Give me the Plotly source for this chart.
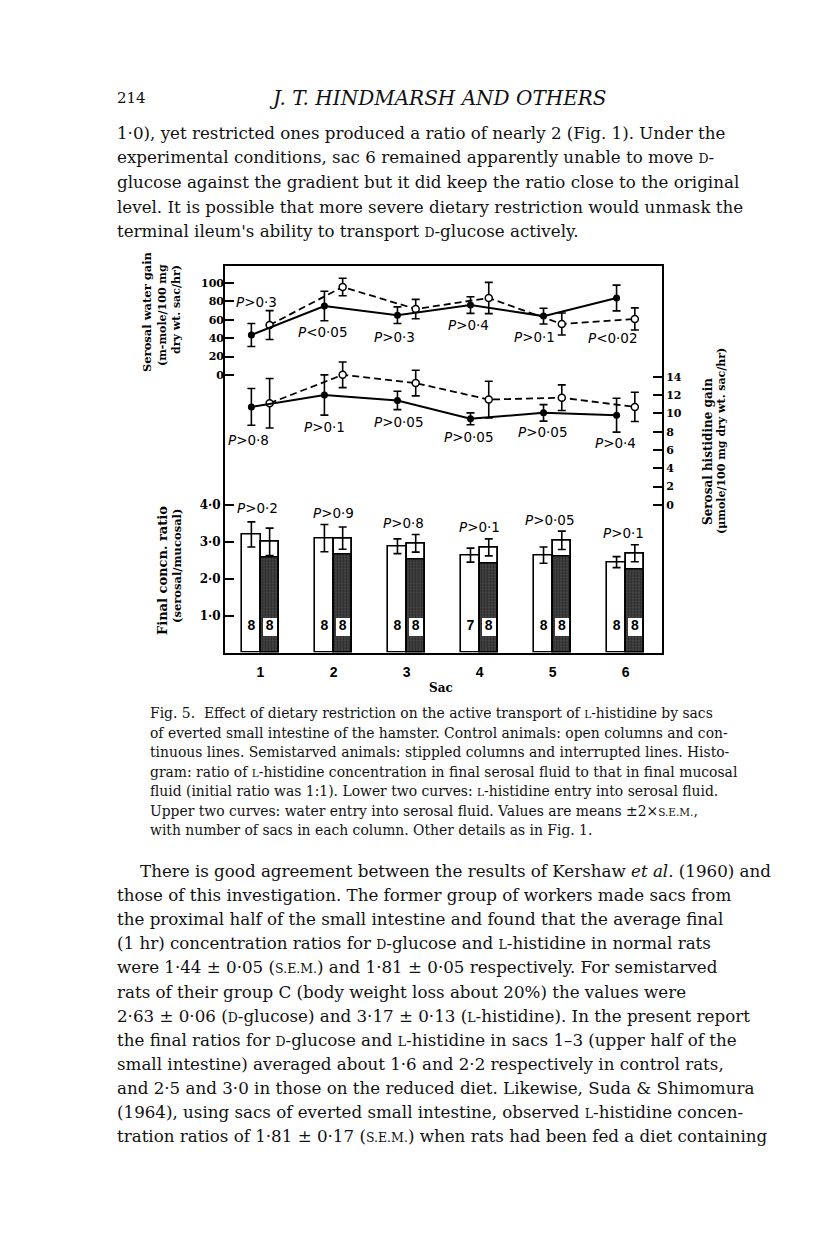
import plotly.graph_objects as go

# ---------------- data ----------------
sacs = [1, 2, 3, 4, 5, 6]
sac_labels = ["1", "2", "3", "4", "5", "6"]

ratio_ctrl = [3.20, 3.10, 2.88, 2.64, 2.64, 2.45]
ratio_ctrl_err = [0.34, 0.37, 0.20, 0.19, 0.22, 0.15]
ratio_semi = [3.00, 3.10, 2.96, 2.85, 3.04, 2.69]
ratio_semi_err = [0.37, 0.30, 0.24, 0.23, 0.25, 0.23]
n_ctrl = [8, 8, 8, 7, 8, 8]
n_semi = [8, 8, 8, 8, 8, 8]

water_ctrl = [43.5, 75.0, 65.0, 76.0, 64.0, 83.7]
water_ctrl_err = [12.5, 16.0, 9.0, 9.0, 8.5, 14.0]
water_semi = [54.3, 95.7, 71.7, 83.7, 55.4, 60.9]
water_semi_err = [15.7, 9.5, 10.5, 17.0, 12.0, 12.0]

hist_ctrl = [10.7, 12.0, 11.4, 9.4, 10.05, 9.8]
hist_ctrl_err = [2.0, 2.2, 1.0, 0.65, 0.9, 1.85]
hist_semi = [11.1, 14.2, 13.3, 11.5, 11.7, 10.7]
hist_semi_err = [2.7, 1.4, 1.4, 2.0, 1.4, 1.6]

p_water = ["P>0·3", "P<0·05", "P>0·3", "P>0·4", "P>0·1", "P<0·02"]
p_hist = ["P>0·8", "P>0·1", "P>0·05", "P>0·05", "P>0·05", "P>0·4"]
p_ratio = ["P>0·2", "P>0·9", "P>0·8", "P>0·1", "P>0·05", "P>0·1"]

water_ticks = [0, 20, 40, 60, 80, 100]
hist_ticks = [0, 2, 4, 6, 8, 10, 12, 14]
ratio_ticks = [1, 2, 3, 4]
ratio_ticktext = ["1·0", "2·0", "3·0", "4·0"]

# ---------------- styling constants ----------------
W, H = 816, 1249
OFF = 0.125
BW = 0.25
STIPPLE_GAP = 0.43
BOX_BASE, BOX_H = 0.46, 0.48
COUNT_Y = 0.70
SERIF = "DejaVu Serif"
SANS = "DejaVu Sans"


def px(x):
    return x / W


def py(y):
    return 1 - y / H


xc = [s - OFF for s in sacs]
xs = [s + OFF for s in sacs]

fig = go.Figure()

# control bars (open)
fig.add_trace(go.Bar(x=xc, y=ratio_ctrl, width=BW, yaxis="y",
                     marker=dict(color="white", line=dict(color="black", width=1.6)),
                     error_y=dict(type="data", array=ratio_ctrl_err, color="black",
                                  thickness=1.6, width=4),
                     showlegend=False, hoverinfo="skip"))
# semistarved bars: white base
fig.add_trace(go.Bar(x=xs, y=ratio_semi, width=BW, yaxis="y",
                     marker=dict(color="white", line=dict(color="black", width=1.6)),
                     showlegend=False, hoverinfo="skip"))
# stippled part
fig.add_trace(go.Bar(x=xs, y=[v - STIPPLE_GAP for v in ratio_semi], width=BW, yaxis="y",
                     marker=dict(color="#333333", line=dict(color="black", width=1.6),
                                 pattern=dict(shape=".", fgcolor="#0a0a0a", bgcolor="#4a4a4a",
                                              size=3, solidity=0.5)),
                     showlegend=False, hoverinfo="skip"))
# white count boxes
fig.add_trace(go.Bar(x=xs, y=[BOX_H] * len(sacs), base=[BOX_BASE] * len(sacs), width=BW * 0.78,
                     yaxis="y", marker=dict(color="white", line=dict(width=0)),
                     showlegend=False, hoverinfo="skip"))
# outline + error bars on top
fig.add_trace(go.Bar(x=xs, y=ratio_semi, width=BW, yaxis="y",
                     marker=dict(color="rgba(0,0,0,0)", line=dict(color="black", width=1.6)),
                     error_y=dict(type="data", array=ratio_semi_err, color="black",
                                  thickness=1.6, width=4),
                     showlegend=False, hoverinfo="skip"))
# counts
fig.add_trace(go.Scatter(x=xc + xs, y=[COUNT_Y] * 12, mode="text",
                         text=[str(n) for n in n_ctrl + n_semi], yaxis="y",
                         textfont=dict(family="Liberation Sans", size=14, color="black", weight="bold"),
                         showlegend=False, hoverinfo="skip"))

# water curves
fig.add_trace(go.Scatter(x=xs, y=water_semi, yaxis="y2", mode="lines+markers",
                         line=dict(color="black", width=1.8, dash="7px,4px"),
                         marker=dict(symbol="circle", size=7, color="white",
                                     line=dict(color="black", width=1.5)),
                         error_y=dict(type="data", array=water_semi_err, color="black",
                                      thickness=1.6, width=4),
                         showlegend=False, hoverinfo="skip"))
fig.add_trace(go.Scatter(x=xc, y=water_ctrl, yaxis="y2", mode="lines+markers",
                         line=dict(color="black", width=2),
                         marker=dict(symbol="circle", size=7, color="black"),
                         error_y=dict(type="data", array=water_ctrl_err, color="black",
                                      thickness=1.6, width=4),
                         showlegend=False, hoverinfo="skip"))
# histidine curves
fig.add_trace(go.Scatter(x=xs, y=hist_semi, yaxis="y3", mode="lines+markers",
                         line=dict(color="black", width=1.8, dash="7px,4px"),
                         marker=dict(symbol="circle", size=7, color="white",
                                     line=dict(color="black", width=1.5)),
                         error_y=dict(type="data", array=hist_semi_err, color="black",
                                      thickness=1.6, width=4),
                         showlegend=False, hoverinfo="skip"))
fig.add_trace(go.Scatter(x=xc, y=hist_ctrl, yaxis="y3", mode="lines+markers",
                         line=dict(color="black", width=2),
                         marker=dict(symbol="circle", size=7, color="black"),
                         error_y=dict(type="data", array=hist_ctrl_err, color="black",
                                      thickness=1.6, width=4),
                         showlegend=False, hoverinfo="skip"))

annotations = []


def ptxt(s):
    s = s.replace("<", "&lt;").replace(">", "&gt;")
    return "<i>P</i>" + s[1:]


pfont = dict(family=SANS, size=13.5, color="black")

# P labels (label anchor positions in axis units)
water_pos = [(0.95, 79), (1.85, 46.7), (2.84, 41.3), (3.85, 54.3), (4.75, 41.3), (5.82, 40.2)]
for t, (x, y) in zip(p_water, water_pos):
    annotations.append(dict(x=x, y=y, xref="x", yref="y2", text=ptxt(t), showarrow=False, font=pfont))
hist_pos = [(0.84, 7.1), (1.87, 8.5), (2.9, 9.07), (3.86, 7.43), (4.87, 7.98), (5.86, 6.78)]
for t, (x, y) in zip(p_hist, hist_pos):
    annotations.append(dict(x=x, y=y, xref="x", yref="y3", text=ptxt(t), showarrow=False, font=pfont))
ratio_pos = [(0.96, 3.91), (2.0, 3.78), (2.96, 3.5), (4.0, 3.4), (4.96, 3.59), (5.97, 3.23)]
for t, (x, y) in zip(p_ratio, ratio_pos):
    annotations.append(dict(x=x, y=y, xref="x", yref="y", text=ptxt(t), showarrow=False, font=pfont))

# axis titles (rotated)
for txt, x, y, sz in [("Serosal water gain", 147, 312, 11.5),
                      ("(m-mole/100 mg", 162, 315, 11),
                      ("dry wt. sac/hr)", 176, 310, 11),
                      ("Final concn. ratio", 162, 571, 13),
                      ("(serosal/mucosal)", 177, 566, 11.5),
                      ("Serosal histidine gain", 708, 452, 12),
                      ("(μmole/100 mg dry wt. sac/hr)", 721, 441, 11)]:
    annotations.append(dict(x=px(x), y=py(y), xref="paper", yref="paper", text=txt,
                            textangle=-90, showarrow=False,
                            font=dict(family=SERIF, size=sz, color="black", weight="bold"),
                            xanchor="center", yanchor="middle"))
annotations.append(dict(x=px(441), y=py(688), xref="paper", yref="paper", text="Sac",
                        showarrow=False, font=dict(family=SERIF, size=12, color="black", weight="bold"),
                        xanchor="center", yanchor="middle"))

# page text
body_font = dict(family=SERIF, size=16.7, color="#111111")
cap_font = dict(family=SERIF, size=13.9, color="#111111")
SC = '<span style="font-size:12.5px">{}</span>'
D = SC.format("D")
L = SC.format("L")
SEM = '<span style="font-size:12.5px">S.E.M.</span>'
SCc = '<span style="font-size:10.5px">{}</span>'
Lc = SCc.format("L")
SEMc = '<span style="font-size:10.5px">S.E.M.</span>'

annotations.append(dict(x=px(115), y=py(98), xref="paper", yref="paper", text="214",
                        showarrow=False, xanchor="left", yanchor="middle",
                        font=dict(family=SERIF, size=15, color="#111111")))
annotations.append(dict(x=px(438), y=py(98), xref="paper", yref="paper",
                        text="<i>J. T. HINDMARSH AND OTHERS</i>",
                        showarrow=False, xanchor="center", yanchor="middle",
                        font=dict(family=SERIF, size=20, color="#111111")))

p1 = ["1·0), yet restricted ones produced a ratio of nearly 2 (Fig. 1). Under the",
      "experimental conditions, sac 6 remained apparently unable to move " + D + "-",
      "glucose against the gradient but it did keep the ratio close to the original",
      "level. It is possible that more severe dietary restriction would unmask the",
      "terminal ileum's ability to transport " + D + "-glucose actively."]
for i, line in enumerate(p1):
    annotations.append(dict(x=px(115), y=py(133 + 24.5 * i), xref="paper", yref="paper", text=line,
                            showarrow=False, xanchor="left", yanchor="middle", font=body_font))

cap = ["Fig. 5.  Effect of dietary restriction on the active transport of " + Lc + "-histidine by sacs",
       "of everted small intestine of the hamster. Control animals: open columns and con-",
       "tinuous lines. Semistarved animals: stippled columns and interrupted lines. Histo-",
       "gram: ratio of " + Lc + "-histidine concentration in final serosal fluid to that in final mucosal",
       "fluid (initial ratio was 1:1). Lower two curves: " + Lc + "-histidine entry into serosal fluid.",
       "Upper two curves: water entry into serosal fluid. Values are means ±2×" + SEMc + ",",
       "with number of sacs in each column. Other details as in Fig. 1."]
for i, line in enumerate(cap):
    annotations.append(dict(x=px(148), y=py(713 + 19.5 * i), xref="paper", yref="paper", text=line,
                            showarrow=False, xanchor="left", yanchor="middle", font=cap_font))

p2 = ["There is good agreement between the results of Kershaw <i>et al</i>. (1960) and",
      "those of this investigation. The former group of workers made sacs from",
      "the proximal half of the small intestine and found that the average final",
      "(1 hr) concentration ratios for " + D + "-glucose and " + L + "-histidine in normal rats",
      "were 1·44 ± 0·05 (" + SEM + ") and 1·81 ± 0·05 respectively. For semistarved",
      "rats of their group C (body weight loss about 20%) the values were",
      "2·63 ± 0·06 (" + D + "-glucose) and 3·17 ± 0·13 (" + L + "-histidine). In the present report",
      "the final ratios for " + D + "-glucose and " + L + "-histidine in sacs 1–3 (upper half of the",
      "small intestine) averaged about 1·6 and 2·2 respectively in control rats,",
      "and 2·5 and 3·0 in those on the reduced diet. Likewise, Suda & Shimomura",
      "(1964), using sacs of everted small intestine, observed " + L + "-histidine concen-",
      "tration ratios of 1·81 ± 0·17 (" + SEM + ") when rats had been fed a diet containing"]
for i, line in enumerate(p2):
    x0 = 138 if i == 0 else 115
    annotations.append(dict(x=px(x0), y=py(871 + 24.1 * i), xref="paper", yref="paper", text=line,
                            showarrow=False, xanchor="left", yanchor="middle", font=body_font))

xdom = [225 / W, 662 / W]
ydom = [1 - 652.5 / H, 1 - 265.5 / H]
tickf = dict(family=SERIF, size=11, color="black", weight="bold")

fig.update_layout(
    width=W, height=H, autosize=False,
    margin=dict(l=0, r=0, t=0, b=0),
    paper_bgcolor="white", plot_bgcolor="white",
    barmode="overlay", bargap=0,
    showlegend=False,
    annotations=annotations,
    xaxis=dict(domain=xdom, range=[0.514, 6.497], tickmode="array", tickvals=sacs,
               ticktext=sac_labels, ticks="", showgrid=False, zeroline=False,
               showline=True, linecolor="black", linewidth=2, mirror=True,
               tickfont=dict(family="Liberation Sans", size=14, color="black", weight="bold"),
               ticklabelstandoff=6),
    yaxis=dict(domain=ydom, range=[0, 10.49], tickmode="array", tickvals=ratio_ticks,
               ticktext=ratio_ticktext, ticks="inside", ticklen=9, tickwidth=1.6, tickcolor="black",
               showgrid=False, zeroline=False, showline=True, linecolor="black", linewidth=2,
               tickfont=dict(family=SERIF, size=12, color="black", weight="bold")),
    yaxis2=dict(overlaying="y", anchor="x", side="left", range=[-301.6, 119.0],
                tickmode="array", tickvals=water_ticks, ticks="inside", ticklen=9, tickwidth=1.6,
                tickcolor="black", showgrid=False, zeroline=False, showline=False, tickfont=tickf),
    yaxis3=dict(overlaying="y", anchor="x", side="right", range=[-16.1, 26.13],
                tickmode="array", tickvals=hist_ticks, ticks="inside", ticklen=9, tickwidth=1.6,
                tickcolor="black", showgrid=False, zeroline=False, showline=True,
                linecolor="black", linewidth=2, tickfont=tickf),
)

fig.write_html("out.html", config={"displayModeBar": False},
               post_script="document.body.style.margin='0px';")
